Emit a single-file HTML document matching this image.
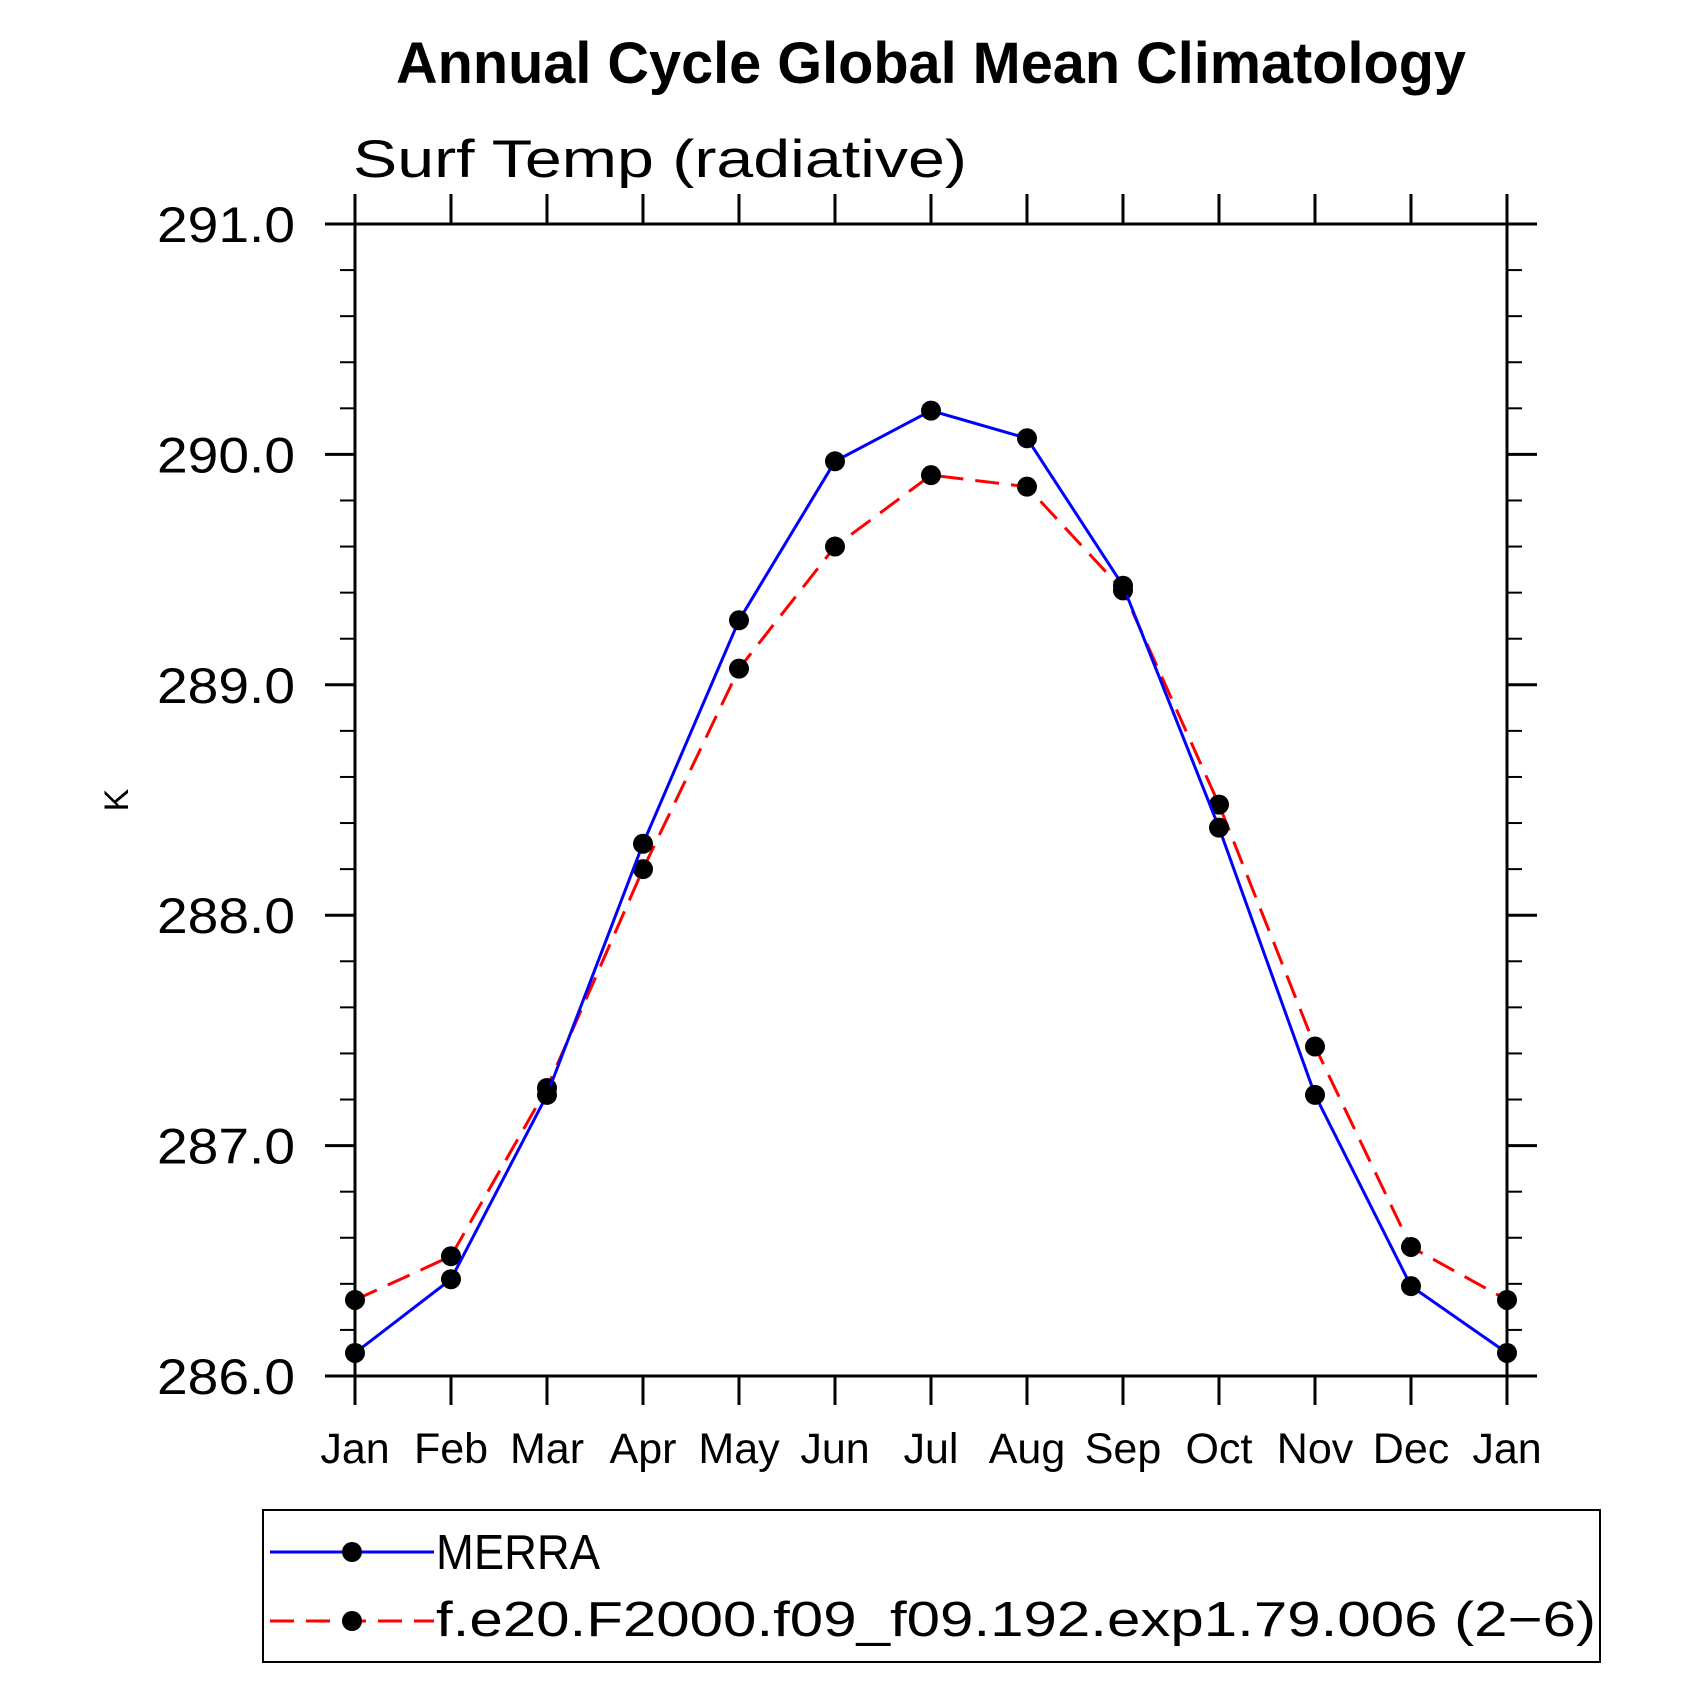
<!DOCTYPE html>
<html><head><meta charset="utf-8"><style>
html,body{margin:0;padding:0;background:#fff;width:1702px;height:1702px;overflow:hidden}
text{font-family:"Liberation Sans",sans-serif}
</style></head><body>
<svg id="chart" width="1702" height="1702" viewBox="0 0 1702 1702" xmlns="http://www.w3.org/2000/svg">
<text x="931" y="83" text-anchor="middle" font-size="58" font-weight="bold" textLength="1070" lengthAdjust="spacingAndGlyphs">Annual Cycle Global Mean Climatology</text>
<text x="353" y="177" font-size="53" textLength="614" lengthAdjust="spacingAndGlyphs">Surf Temp (radiative)</text>
<text transform="translate(128,800) rotate(-90)" text-anchor="middle" font-size="34">K</text>
<g id="axes"></g>
<g id="series"></g>
<rect x="263" y="1510" width="1337" height="152" fill="none" stroke="#000" stroke-width="2"/>
<g id="legend"></g>
</svg>
<script>
const months = ["Jan","Feb","Mar","Apr","May","Jun","Jul","Aug","Sep","Oct","Nov","Dec","Jan"];
const merra = [286.10,286.42,287.22,288.31,289.28,289.97,290.19,290.07,289.43,288.38,287.22,286.39,286.10];
const model = [286.33,286.52,287.25,288.20,289.07,289.60,289.91,289.86,289.41,288.48,287.43,286.56,286.33];
const yTicks = [286.0,287.0,288.0,289.0,290.0,291.0];
const seriesNames = ["MERRA","f.e20.F2000.f09_f09.192.exp1.79.006 (2\u22126)"];

const NS="http://www.w3.org/2000/svg";
const L=355,R=1507,T=224,B=1376,yMin=286,yMax=291;
const xs=i=>L+(R-L)*i/(months.length-1);
const ys=v=>B-(B-T)*(v-yMin)/(yMax-yMin);
function mk(tag,attrs,parent){const e=document.createElementNS(NS,tag);for(const k in attrs)e.setAttribute(k,attrs[k]);parent.appendChild(e);return e;}
const ax=document.getElementById('axes');
let e=mk('rect',{x:L,y:T,width:R-L,height:B-T,fill:'none',stroke:'#000','stroke-width':3},ax);


months.forEach((m,i)=>{
  const x=xs(i);
  let t=mk('line',{x1:x,x2:x,y1:B,y2:B+29,stroke:'#000','stroke-width':3},ax);
  
  
  t=mk('line',{x1:x,x2:x,y1:T,y2:T-30,stroke:'#000','stroke-width':3},ax);
  
  
  const lb=mk('text',{x:x,y:1463,'text-anchor':'middle','font-size':43},ax);
  lb.textContent=m;
  
  
});
for(let v=yMin;v<=yMax+1e-6;v+=0.2){
  const y=ys(v);const major=Math.abs(v-Math.round(v))<1e-6;
  let t=mk('line',{x1:L-(major?30:15),x2:L,y1:y,y2:y,stroke:'#000','stroke-width':major?3:2},ax);
  
  
  t=mk('line',{x1:R,x2:R+(major?30:15),y1:y,y2:y,stroke:'#000','stroke-width':major?3:2},ax);
  
  
}
yTicks.forEach(v=>{
  const lb=mk('text',{x:295,y:ys(v)+18,'text-anchor':'end','font-size':50,textLength:138,lengthAdjust:'spacingAndGlyphs'},ax);
  lb.textContent=v.toFixed(1);
  
  
});
const sg=document.getElementById('series');
function drawSeries(vals,color,dash,name){
  const pl=mk('polyline',{points:vals.map((v,i)=>xs(i)+','+ys(v)).join(' '),fill:'none',stroke:color,'stroke-width':3,'stroke-dasharray':dash},sg);
  
  
  vals.forEach((v,i)=>{
    const c=mk('circle',{cx:xs(i),cy:ys(v),r:10,fill:'#000'},sg);
    
    
  });
}
drawSeries(model,'#f00','24 12','model');
drawSeries(merra,'#00f','none','merra');
const lg=document.getElementById('legend');
const legendWidths=[164,1160];
[[1552,'#00f','none',1569],[1621,'#f00','24 12',1636]].forEach((p,i)=>{
  let l=mk('line',{x1:270,x2:434,y1:p[0],y2:p[0],stroke:p[1],'stroke-width':3,'stroke-dasharray':p[2]},lg);
  
  
  let c=mk('circle',{cx:352,cy:p[0],r:10,fill:'#000'},lg);
  
  
  let t=mk('text',{x:436,y:p[3],'font-size':49,textLength:legendWidths[i],lengthAdjust:'spacingAndGlyphs'},lg);
  t.textContent=seriesNames[i];
  
  
});
</script>
</body></html>
